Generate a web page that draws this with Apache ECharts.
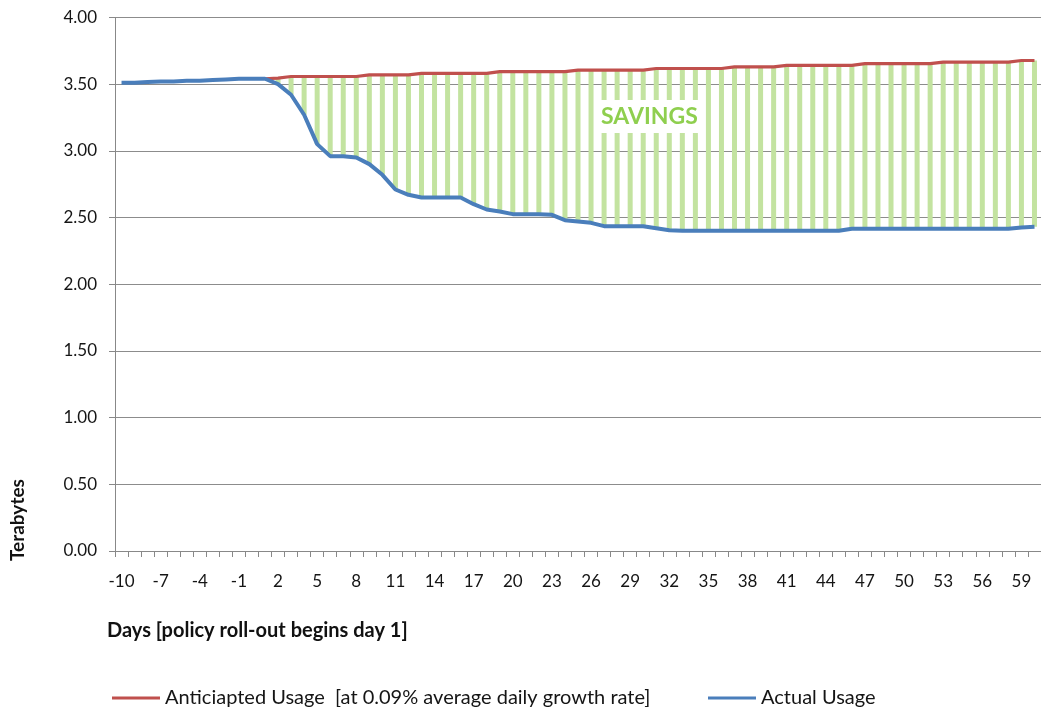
<!DOCTYPE html>
<html>
<head>
<meta charset="utf-8">
<script src="https://cdn.jsdelivr.net/npm/echarts@6/dist/echarts.min.js"></script>
<style>
html,body{margin:0;padding:0;background:#fff;}
#chart{width:1041px;height:707px;}
</style>
</head>
<body>
<div id="chart"></div>
<script>
// ---- Data ----
var days = ['-10','-9','-8','-7','-6','-5','-4','-3','-2','-1','0',
  '1','2','3','4','5','6','7','8','9','10','11','12','13','14','15','16','17','18','19','20',
  '21','22','23','24','25','26','27','28','29','30','31','32','33','34','35','36','37','38','39','40',
  '41','42','43','44','45','46','47','48','49','50','51','52','53','54','55','56','57','58','59','60'];

var actualUsage = [3.51,3.51,3.515,3.52,3.52,3.525,3.525,3.53,3.535,3.54,3.54,
  3.54,3.50,3.42,3.27,3.05,2.96,2.96,2.95,2.90,2.82,
  2.71,2.67,2.65,2.65,2.65,2.65,2.60,2.56,2.545,2.525,
  2.525,2.525,2.52,2.48,2.47,2.46,2.435,2.435,2.435,2.435,
  2.42,2.405,2.40,2.40,2.40,2.40,2.40,2.40,2.40,2.40,
  2.40,2.40,2.40,2.40,2.40,2.415,2.415,2.415,2.415,2.415,
  2.415,2.415,2.415,2.415,2.415,2.415,2.415,2.415,2.425,2.43];

var anticipatedUsage = [null,null,null,null,null,null,null,null,null,null,null,
  3.54,3.545,3.557,3.557,3.557,3.557,3.557,3.557,3.569,3.569,
  3.569,3.569,3.581,3.581,3.581,3.581,3.581,3.581,3.593,3.593,
  3.593,3.593,3.593,3.593,3.605,3.605,3.605,3.605,3.605,3.605,
  3.617,3.617,3.617,3.617,3.617,3.617,3.629,3.629,3.629,3.629,
  3.641,3.641,3.641,3.641,3.641,3.641,3.653,3.653,3.653,3.653,
  3.653,3.653,3.665,3.665,3.665,3.665,3.665,3.665,3.677,3.677];

var yTicks = {min: 0, max: 4, interval: 0.5};
var anticipatedName = 'Anticiapted Usage  [at 0.09% average daily growth rate]';
var actualName = 'Actual Usage';

// derived for the savings (high-low) bars
var savingsBase = anticipatedUsage.map(function(a, i){ return a == null ? null : actualUsage[i]; });
var savingsGap = anticipatedUsage.map(function(a, i){ return a == null ? null : +(a - actualUsage[i]).toFixed(4); });

var FONT = 'Lato';
var chart = echarts.init(document.getElementById('chart'));
chart.setOption({
  animation: false,
  backgroundColor: '#ffffff',
  textStyle: {fontFamily: FONT},
  grid: {left: 115, top: 17.4, bottom: 156, right: -7, containLabel: false},
  xAxis: {
    type: 'category',
    data: days,
    boundaryGap: true,
    axisLine: {lineStyle: {color: '#888888', width: 1}},
    axisTick: {show: true, interval: 0, length: 6, alignWithLabel: false, lineStyle: {color: '#888888'}},
    axisLabel: {interval: 2, margin: 22, fontSize: 17, color: '#151515', fontFamily: FONT},
    splitLine: {show: false}
  },
  yAxis: {
    type: 'value',
    min: yTicks.min, max: yTicks.max, interval: yTicks.interval,
    axisLine: {show: true, lineStyle: {color: '#888888', width: 1}},
    axisTick: {show: true, length: 6, lineStyle: {color: '#888888'}},
    axisLabel: {margin: 18, fontSize: 17, color: '#151515', fontFamily: FONT,
      formatter: function(v){ return v.toFixed(2); }},
    splitLine: {show: true, lineStyle: {color: '#8c8c8c', width: 1}}
  },
  legend: [
    {data: [anticipatedName], left: 107, top: 683, icon: 'rect', itemWidth: 48, itemHeight: 3,
      textStyle: {fontSize: 20, color: '#151515', fontFamily: FONT}},
    {data: [actualName], left: 703, top: 683, icon: 'rect', itemWidth: 48, itemHeight: 3,
      textStyle: {fontSize: 20, color: '#151515', fontFamily: FONT}}
  ],
  graphic: [
    {type: 'text', left: 107, top: 621,
      style: {text: 'Days [policy roll-out begins day 1]', font: 'bold 20px Lato', fill: '#111'}},
    {type: 'text', x: 8, y: 561, rotation: Math.PI / 2,
      style: {text: 'Terabytes', font: 'bold 19px Lato', fill: '#111'}},
    {type: 'text', left: 596, top: 100, z: 100,
      style: {text: 'SAVINGS', font: 'bold 23px Lato', fill: '#8fcf4f',
        backgroundColor: '#ffffff', padding: [5, 5, 5, 5]}}
  ],
  series: [
    {name: 'base', type: 'bar', stack: 'sav', data: savingsBase, barWidth: 5, silent: true,
      itemStyle: {color: 'rgba(0,0,0,0)'}, z: 1},
    {name: 'savings', type: 'bar', stack: 'sav', data: savingsGap, barWidth: 5, silent: true,
      itemStyle: {color: '#c3e3a0'}, z: 1},
    {name: anticipatedName, type: 'line', data: anticipatedUsage, showSymbol: false, symbol: 'none',
      lineStyle: {color: '#c0504d', width: 3.2}, itemStyle: {color: '#c0504d'}, z: 3},
    {name: actualName, type: 'line', data: actualUsage, showSymbol: false, symbol: 'none',
      lineStyle: {color: '#4a7ebb', width: 4}, itemStyle: {color: '#4a7ebb'}, z: 4}
  ]
});
</script>
</body>
</html>
